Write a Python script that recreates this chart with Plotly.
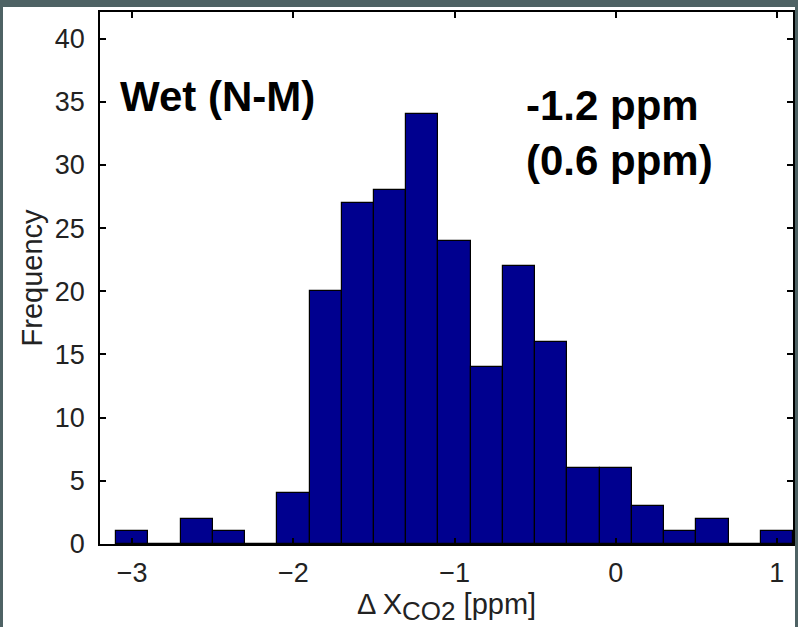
import plotly.graph_objects as go

# histogram bins (centres, width 0.2 ppm) and counts
bin_centres = [-3.0, -2.8, -2.6, -2.4, -2.2, -2.0, -1.8, -1.6, -1.4, -1.2, -1.0,
               -0.8, -0.6, -0.4, -0.2, 0.0, 0.2, 0.4, 0.6, 0.8, 1.0]
counts = [1, 0, 2, 1, 0, 4, 20, 27, 28, 34, 24,
          14, 22, 16, 6, 6, 3, 1, 2, 0, 1]
x_ticks = [-3, -2, -1, 0, 1]
y_ticks = [0, 5, 10, 15, 20, 25, 30, 35, 40]

tick_font = dict(family="Liberation Sans, Arial, sans-serif", size=27, color="#222222")
title_font = dict(family="Liberation Sans, Arial, sans-serif", size=29, color="#222222")
bold_font = dict(family="Liberation Sans, Arial, sans-serif", size=42, color="black")


def main():
    fig = go.Figure()
    fig.add_trace(go.Bar(
        x=bin_centres,
        y=counts,
        width=0.2,
        marker=dict(color="#00008f", line=dict(color="black", width=1.2)),
        showlegend=False,
    ))

    axis_style = dict(
        showline=True, linecolor="black", linewidth=1.5, mirror="ticks",
        ticks="inside", ticklen=6, tickwidth=1.5, tickcolor="black",
        showgrid=False, zeroline=False, tickfont=tick_font, automargin=False,
    )
    fig.update_xaxes(range=[-3.2, 1.1], tickvals=x_ticks, ticklabelstandoff=4, **axis_style,
                     title=dict(text="Δ X<sub><span style='font-size:26px'>CO2</span></sub> [ppm]",
                                font=title_font, standoff=2))
    fig.update_yaxes(range=[0, 42.1], tickvals=y_ticks, ticklabelstandoff=8, **axis_style,
                     title=dict(text="Frequency", font=title_font, standoff=4))

    fig.add_annotation(text="<b>Wet (N-M)</b>", x=-3.09, y=35.4, xanchor="left",
                       yanchor="middle", showarrow=False, font=bold_font)
    fig.add_annotation(text="<b>-1.2 ppm<br>(0.6 ppm)</b>", x=-0.57, y=32.5, xanchor="left",
                       yanchor="middle", align="left", showarrow=False, font=bold_font)

    # dark slide border strips (top, left, right), in pixel offsets from the plot area
    fig.add_shape(type="rect", xref="paper", yref="paper", xsizemode="scaled",
                  ysizemode="pixel", yanchor=1.0, y0=5, y1=20, x0=-0.2, x1=1.1,
                  line_width=0, fillcolor="#4e6264")
    strip = dict(type="rect", xref="paper", yref="paper", line_width=0,
                 fillcolor="#4e6264", layer="above")
    fig.add_shape(x0=-0.2, x1=-97 / 693, y0=-0.2, y1=1.05, **strip)
    fig.add_shape(x0=1.0 + 2 / 693, x1=1.1, y0=-0.2, y1=1.05, **strip)

    fig.update_layout(
        width=798, height=627,
        margin=dict(l=100, r=5, t=12, b=83),
        plot_bgcolor="white", paper_bgcolor="white",
        bargap=0,
    )
    # drop the page's default body margin so the figure sits at the window corner
    fig.write_html(
        "out.html",
        config={"displayModeBar": False},
        post_script="document.body.style.margin='0';document.body.style.overflow='hidden';"
                    "window.scrollTo(0,0);",
    )


if __name__ == "__main__":
    main()
